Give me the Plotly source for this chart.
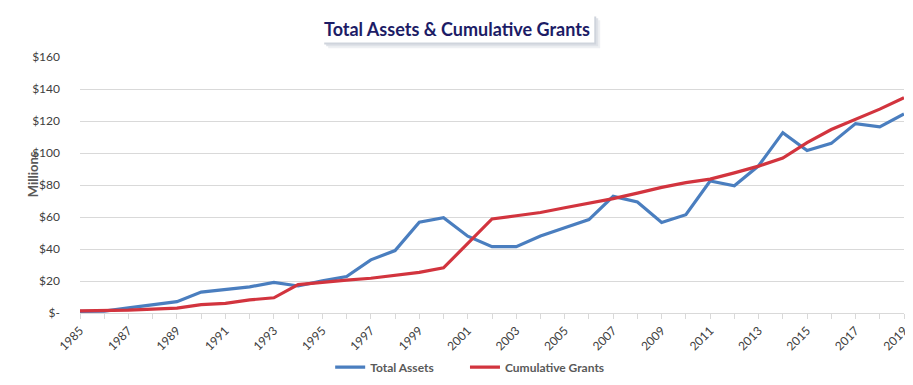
import plotly.graph_objects as go

years = list(range(1985, 2020))
total_assets = [1.0, 1.2, 3.2, 5.4, 7.1, 13.1, 14.9, 16.3, 19.1, 16.9,
                20.1, 22.8, 33.2, 39.0, 56.8, 59.6, 48.0, 41.5, 41.5, 48.1,
                53.3, 58.4, 72.9, 69.4, 56.6, 61.4, 82.5, 79.5, 92.0, 112.7,
                101.6, 106.0, 118.4, 116.3, 124.4]
cumulative_grants = [1.3, 1.3, 1.8, 2.4, 3.0, 5.2, 6.0, 8.2, 9.5, 17.7,
                     19.3, 20.5, 21.7, 23.5, 25.4, 28.2, 43.5, 58.8, 60.8, 62.8,
                     65.8, 68.6, 71.5, 74.9, 78.5, 81.5, 83.7, 87.6, 91.8, 96.8,
                     106.5, 114.7, 121.2, 127.4, 134.5]
y_ticks = [0, 20, 40, 60, 80, 100, 120, 140, 160]
y_labels = ["$-", "$20", "$40", "$60", "$80", "$100", "$120", "$140", "$160"]
x_ticks = list(range(1985, 2020, 2))
series_names = ["Total Assets", "Cumulative Grants"]

font_family = "Lato, Open Sans, sans-serif"
grey = "#595959"

L, R, T, B = 72, 902, 49, 314
W, H = R - L, B - T


def px(x):
    return (x - L) / W


def py(y):
    return (B - y) / H


fig = go.Figure()
fig.add_trace(go.Scatter(x=years, y=total_assets, mode="lines",
                         name=series_names[0] + "\u00a0" * 9,
                         line=dict(color="#4A7EBF", width=3.2)))
fig.add_trace(go.Scatter(x=years, y=cumulative_grants, mode="lines", name=series_names[1],
                         line=dict(color="#D2343E", width=3.2)))

fig.update_layout(
    width=913, height=385,
    margin=dict(l=L, r=913 - R, t=T, b=385 - B),
    paper_bgcolor="white", plot_bgcolor="white",
    font=dict(family=font_family, color=grey, size=12),
    showlegend=True,
    legend=dict(orientation="h", x=px(324), xanchor="left", y=py(370), yanchor="middle",
                font=dict(size=12, color=grey, family=font_family, weight="bold"),
                itemwidth=30, traceorder="normal"),
    xaxis=dict(range=[1985, 2019], tickvals=x_ticks, ticktext=[str(v) for v in x_ticks],
               tickangle=-45, showgrid=False, showline=True, linecolor="#d9d9d9", linewidth=1,
               ticks="outside", ticklen=5, tickcolor="#d9d9d9",
               minor=dict(ticks="outside", dtick=1, ticklen=5, tickcolor="#d9d9d9", showgrid=False),
               tickfont=dict(size=12, color="#404040"), zeroline=False),
    yaxis=dict(range=[0, 160], tickvals=y_ticks, ticktext=y_labels, showgrid=True,
               gridcolor="#d9d9d9", gridwidth=1, zeroline=False, showline=False,
               ticks="", ticklabelstandoff=19, tickfont=dict(size=12, color="#404040")),
)

# Title box with soft shadow
for off, col in [(6, "#eef0f3"), (4, "#dfe2e8"), (2, "#cfd4dc")]:
    fig.add_shape(type="rect", xref="paper", yref="paper",
                  x0=px(316 + off), x1=px(590 + off), y0=py(34 + off), y1=py(5 + off),
                  fillcolor=col, line=dict(width=0), layer="below")
fig.add_shape(type="rect", xref="paper", yref="paper",
              x0=px(316), x1=px(590), y0=py(34), y1=py(5),
              fillcolor="white", line=dict(width=0), layer="below")
fig.add_annotation(text="<b>Total Assets & Cumulative Grants</b>", xref="paper", yref="paper",
                   x=px(452), y=py(20), xanchor="center", yanchor="middle",
                   showarrow=False,
                   font=dict(size=18, color="#1C1C66", family=font_family))

fig.add_annotation(text="<b>Millions</b>", xref="paper", yref="paper",
                   x=px(25), y=py(170), xanchor="center", yanchor="middle",
                   textangle=-90, showarrow=False,
                   font=dict(size=13, color=grey, family=font_family))

fig.write_html("out.html")
